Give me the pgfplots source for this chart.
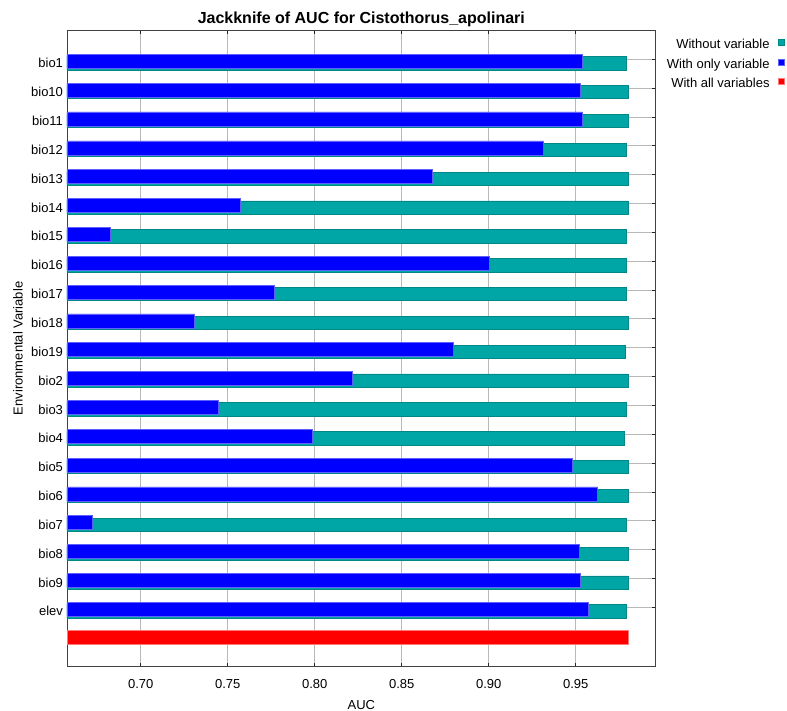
\documentclass[border=0pt]{standalone}
\usepackage{fontspec}
\setmainfont{Liberation Sans}
\usepackage{pgfplots}
\usepackage{pgfplotstable}
\pgfplotsset{compat=1.18}
\definecolor{tealc}{RGB}{0,166,166}
\definecolor{teale}{RGB}{0,135,135}
\definecolor{bluec}{RGB}{0,0,255}
\definecolor{bluee}{RGB}{95,95,255}
\definecolor{redc}{RGB}{255,0,0}
\definecolor{rede}{RGB}{255,120,120}

\pgfplotstableread{
pos bpos without only
0 -0.07 0.9793 0.9538
1 0.93 0.9801 0.9529
2 1.93 0.9801 0.9538
3 2.93 0.9793 0.9314
4 3.93 0.9801 0.8674
5 4.93 0.9801 0.7571
6 5.93 0.9793 0.6828
7 6.93 0.9793 0.9002
8 7.93 0.9793 0.7768
9 8.93 0.9801 0.7308
10 9.93 0.9787 0.8795
11 10.93 0.9801 0.8216
12 11.93 0.9793 0.7444
13 12.93 0.9781 0.7986
14 13.93 0.9801 0.9483
15 14.93 0.9801 0.9626
16 15.93 0.9793 0.6724
17 16.93 0.9801 0.9523
18 17.93 0.9801 0.9529
19 18.93 0.9793 0.9575
}\jk

\begin{document}
\begin{tikzpicture}
\useasboundingbox (0,0) rectangle (787pt,-711pt);
\begin{axis}[
  at={(67pt,-30pt)}, anchor=north west,
  width=588.7pt, height=636.7pt, scale only axis,
  font=\fontsize{13}{15}\selectfont,
  xbar, bar width=0.46, bar shift=0pt,
  xmin=0.65764, xmax=0.99598,
  ymin=-1.155, ymax=20.92, y dir=reverse,
  xtick={0.70,0.75,0.80,0.85,0.90,0.95},
  /pgf/number format/.cd, fixed, fixed zerofill, precision=2, assume math mode=true,
  /pgfplots/.cd,
  ytick={-0.14,0.86,1.86,2.86,3.86,4.86,5.86,6.86,7.86,8.86,9.86,10.86,11.86,12.86,13.86,14.86,15.86,16.86,17.86,18.86},
  yticklabels={bio1,bio10,bio11,bio12,bio13,bio14,bio15,bio16,bio17,bio18,bio19,bio2,bio3,bio4,bio5,bio6,bio7,bio8,bio9,elev},
  yticklabel style={anchor=east, yshift=-4pt, xshift=-0.5pt},
  xticklabel style={anchor=center, yshift=-17.3pt},
  tick align=inside,
  major tick length=4pt,
  tick style={black!85, line width=0.8pt},
  grid=major,
  major grid style={black!28, line width=0.8pt},
  axis line style={black!75, line width=0.9pt},
  title={\bfseries Jackknife of AUC for Cistothorus\_apolinari},
  title style={at={(0.5,1)}, anchor=base, yshift=1pt, font=\fontsize{16}{18}\selectfont\bfseries},
  xlabel={AUC},
  xlabel style={at={(axis description cs:0.5,-0.0602)}, anchor=center},
  ylabel={Environmental Variable},
  ylabel style={at={(axis description cs:-0.0832,0.5)}, anchor=center},
  legend image code/.code={\draw[#1] (0pt,0pt) rectangle (6pt,6pt);},
  legend plot pos=right,
  legend cell align=right,
  legend style={at={(axis description cs:1.2185,0.9859)}, anchor=north east,
    draw=none, fill=none, inner sep=0pt, row sep=7pt, column sep=8pt,
    cells={anchor=east},
    nodes={inner sep=0pt, text height=9.5pt, text depth=3pt},
    font=\fontsize{13}{15}\selectfont},
]
\addplot[fill=tealc, draw=teale, line width=0.6pt] table[x=without, y=pos] {\jk};
\addlegendentry{Without variable}
\addplot[fill=bluec, draw=bluee, line width=0.6pt, bar width=0.485] table[x=only, y=bpos] {\jk};
\addlegendentry{With only variable}
\addplot[fill=redc, draw=rede, line width=0.6pt] coordinates {(0.9801,19.9)};
\addlegendentry{With all variables}
\end{axis}
\end{tikzpicture}
\end{document}
